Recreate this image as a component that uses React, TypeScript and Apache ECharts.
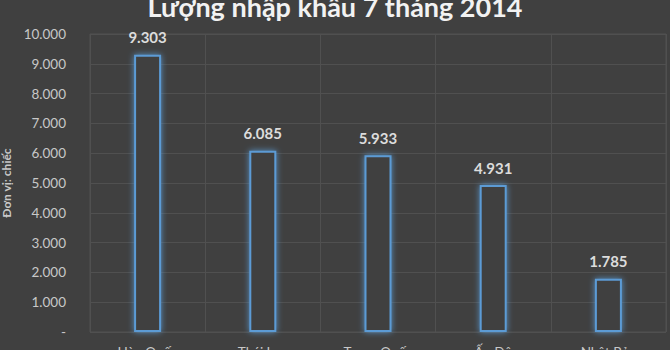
import React, { useEffect, useRef } from "react";
import * as echarts from "echarts";

const countries = ["Hàn Quốc", "Thái Lan", "Trung Quốc", "Ấn Độ", "Nhật Bản"];
const imports = [9303, 6085, 5933, 4931, 1785];
const yTicks = { min: 0, max: 10000, interval: 1000 };

const fmt = (v: number) =>
  v === 0 ? "-" : String(v).replace(/\B(?=(\d{3})+(?!\d))/g, ".");

export default function App() {
  const ref = useRef<HTMLDivElement>(null);
  useEffect(() => {
    const chart = echarts.init(ref.current!, undefined, { renderer: "svg" });
    const font = "Lato, 'Noto Sans', sans-serif";
    chart.setOption({
      animation: false,
      backgroundColor: "#404040",
      textStyle: { fontFamily: font },
      title: {
        text: "Lượng nhập khẩu 7 tháng 2014",
        left: "center",
        top: -12,
        textStyle: { color: "#f2f2f2", fontSize: 27, fontWeight: "bold", fontFamily: font },
      },
      grid: {
        left: 90,
        right: 4,
        top: 34,
        bottom: 18,
        outerBoundsMode: "none",
        show: true,
        borderColor: "#505050",
        borderWidth: 1,
      },
      xAxis: {
        type: "category",
        data: countries,
        axisLine: { show: false },
        axisTick: { show: false },
        splitLine: { show: true, lineStyle: { color: "#505050", width: 1 } },
        axisLabel: { color: "#c8c8c8", fontSize: 13.5, margin: 13, interval: 0 },
      },
      yAxis: {
        type: "value",
        min: yTicks.min,
        max: yTicks.max,
        interval: yTicks.interval,
        name: "Đơn vị: chiếc",
        nameLocation: "middle",
        nameGap: 76,
        nameRotate: 90,
        nameTextStyle: { color: "#c8c8c8", fontSize: 12, fontWeight: "bold" },
        axisLine: { show: false },
        axisTick: { show: false },
        splitLine: { lineStyle: { color: "#505050", width: 1 } },
        axisLabel: { color: "#c8c8c8", fontSize: 13.5, margin: 24, formatter: fmt },
      },
      series: [
        {
          type: "bar",
          data: imports,
          barWidth: 27,
          itemStyle: {
            color: "#404040",
            borderColor: "#5b9bd5",
            borderWidth: 2,
            shadowBlur: 6,
            shadowColor: "rgba(91,155,213,0.9)",
          },
          label: {
            show: true,
            position: "top",
            distance: 10,
            color: "#dcdcdc",
            fontSize: 15,
            fontWeight: "bold",
            formatter: (p: any) => fmt(p.value),
          },
        },
      ],
    });
    return () => chart.dispose();
  }, []);
  return <div ref={ref} style={{ width: 670, height: 350, position: "fixed", left: 0, top: 0 }} />;
}
